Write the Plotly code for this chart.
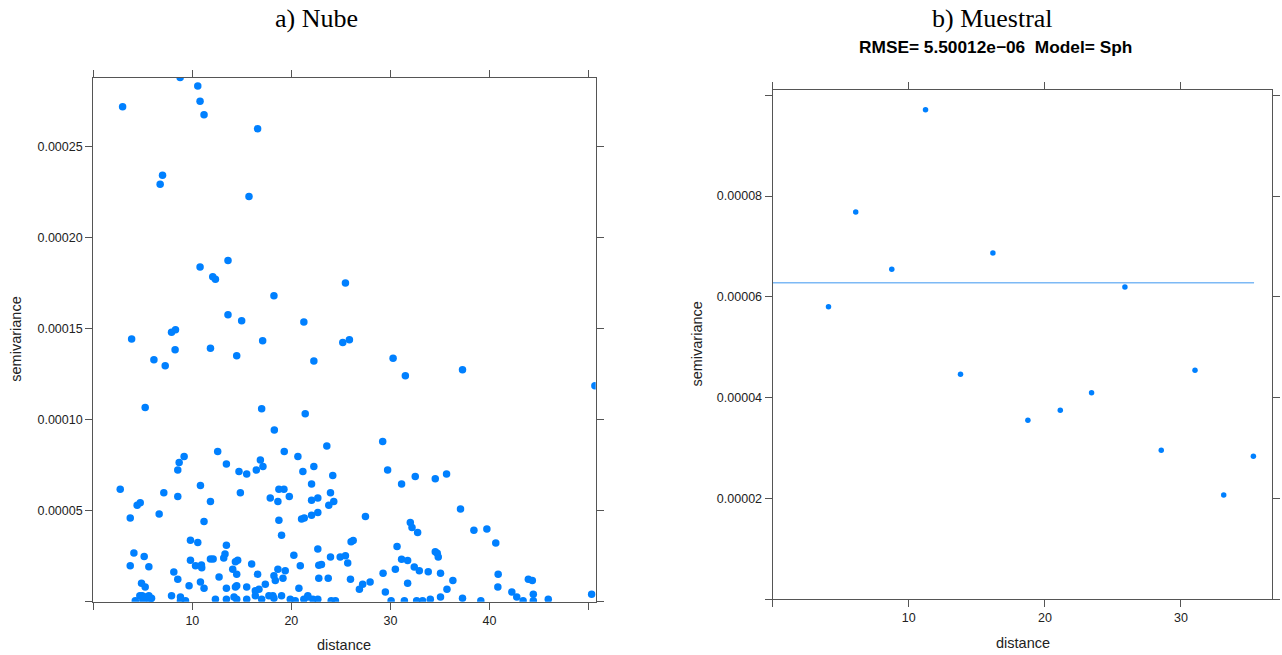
import plotly.graph_objects as go

# ---------------- data ----------------
# a) Nube : variogram cloud (distance, semivariance)
nube_dist = [
    2.96, 8.77, 10.55, 10.78, 11.18, 16.59, 6.99, 6.75, 15.72, 10.78,
    13.60, 12.06, 12.33, 18.24, 13.60, 14.98, 21.26, 7.90, 8.30, 3.87,
    25.46, 25.19, 25.86,
    8.26, 11.83, 17.10, 14.48, 6.12, 7.26, 22.27, 5.24, 17.0, 21.4,
    18.28, 12.56, 19.28, 9.17, 20.66, 8.67, 16.87, 17.13, 13.44, 22.27,
    8.53, 14.71, 15.49, 16.46, 21.16, 2.72, 10.82, 7.12, 14.85, 22.04,
    18.74, 19.25, 8.53, 17.87, 19.79, 18.64, 11.83, 22.04, 22.67, 4.43,
    4.74, 6.65, 3.73, 11.18, 18.74, 21.03, 21.3, 22.04, 22.67, 19.01,
    9.81, 10.55, 13.44, 22.67, 4.10, 13.3, 13.17, 20.25, 5.14, 9.81,
    11.83, 12.1, 14.35, 14.58, 15.99, 3.73, 5.61, 10.32, 10.92, 10.95,
    20.9, 22.77, 14.08, 18.64, 19.38, 18.24, 19.15, 8.13, 14.48, 16.59,
    8.53, 12.7, 18.38, 22.77, 10.82, 4.87, 5.24, 17.37, 9.67, 14.48,
    14.35, 15.49, 11.18, 13.44, 16.73, 16.36, 20.76, 7.90, 8.8, 16.36,
    17.73, 18.13, 19.01, 21.66,
    4.24, 4.7, 4.94, 5.24, 5.61, 5.88, 8.8, 9.31, 12.33, 13.44,
    14.21, 14.48, 15.49, 17.0, 18.24, 19.89, 20.39, 21.26, 21.66, 22.17,
    22.67, 5.0, 5.7,
    30.27, 31.51, 37.28, 50.65, 29.22, 23.58, 29.72, 32.51, 34.53, 35.67,
    24.18, 31.13, 23.95, 24.28, 23.78, 37.08, 27.48, 32.01, 32.18, 32.75,
    38.43, 39.74, 40.64, 26.03, 26.24, 30.67, 34.53, 34.73, 34.83, 23.95,
    24.93, 25.46, 25.69, 23.04, 31.13, 31.74, 32.41, 32.92, 33.82, 35.06,
    30.5, 29.26, 40.88, 23.72, 25.97, 36.31, 43.93, 44.33, 27.95, 27.2,
    26.87, 31.74, 40.85, 35.71, 29.49, 42.26, 42.76, 44.43, 50.32, 35.06,
    37.28, 45.94,
    24.02, 24.45, 30.07, 31.41, 32.65, 33.25, 34.03, 39.13, 43.4, 44.43,
]
nube_gamma = [
    2.72e-4, 2.88e-4, 2.833e-4, 2.75e-4, 2.675e-4, 2.598e-4, 2.343e-4, 2.294e-4, 2.226e-4, 1.839e-4,
    1.874e-4, 1.786e-4, 1.771e-4, 1.681e-4, 1.577e-4, 1.544e-4, 1.537e-4, 1.48e-4, 1.494e-4, 1.443e-4,
    1.751e-4, 1.4245e-4, 1.439e-4,
    1.384e-4, 1.392e-4, 1.434e-4, 1.351e-4, 1.329e-4, 1.296e-4, 1.322e-4, 1.067e-4, 1.06e-4, 1.032e-4,
    9.44e-5, 8.25e-5, 8.25e-5, 7.975e-5, 7.975e-5, 7.645e-5, 7.79e-5, 7.43e-5, 7.57e-5, 7.43e-5,
    7.23e-5, 7.15e-5, 7.02e-5, 7.23e-5, 7.15e-5, 6.18e-5, 6.38e-5, 5.98e-5, 5.98e-5, 6.46e-5,
    6.18e-5, 6.18e-5, 5.78e-5, 5.70e-5, 5.78e-5, 5.5e-5, 5.5e-5, 5.58e-5, 5.70e-5, 5.30e-5,
    5.43e-5, 4.82e-5, 4.60e-5, 4.40e-5, 4.48e-5, 4.55e-5, 4.60e-5, 4.75e-5, 4.90e-5, 3.65e-5,
    3.38e-5, 3.25e-5, 3.10e-5, 2.90e-5, 2.68e-5, 2.62e-5, 2.40e-5, 2.55e-5, 2.48e-5, 2.28e-5,
    2.35e-5, 2.35e-5, 2.2e-5, 2.28e-5, 2.07e-5, 1.98e-5, 1.925e-5, 1.98e-5, 2.02e-5, 1.87e-5,
    1.98e-5, 2.0e-5, 1.78e-5, 1.78e-5, 1.70e-5, 1.43e-5, 1.29e-5, 1.63e-5, 1.51e-5, 1.51e-5,
    1.23e-5, 1.36e-5, 1.16e-5, 1.29e-5, 1.08e-5, 1.01e-5, 8.1e-6, 9.6e-6, 8.8e-6, 8.8e-6,
    8.1e-6, 8.1e-6, 7.4e-6, 7.4e-6, 6.8e-6, 6.0e-6, 7.4e-6, 3.3e-6, 2.6e-6, 3.3e-6,
    3.3e-6, 3.3e-6, 3.3e-6, 3.3e-6,
    5.5e-7, 3.3e-6, 3.3e-6, 2.6e-6, 3.3e-6, 1.9e-6, 5.5e-7, 5.5e-7, 1.3e-6, 1.3e-6,
    2.6e-6, 1.3e-6, 1.3e-6, 1.3e-6, 1.9e-6, 1.3e-6, 5.5e-7, 1.3e-6, 2.6e-6, 1.3e-6,
    1.3e-6, 1.0e-6, 5.0e-7,
    1.337e-4, 1.241e-4, 1.274e-4, 1.186e-4, 8.8e-5, 8.55e-5, 7.23e-5, 6.88e-5, 6.75e-5, 7.02e-5,
    6.93e-5, 6.47e-5, 5.98e-5, 5.5e-5, 5.30e-5, 5.10e-5, 4.68e-5, 4.35e-5, 4.07e-5, 3.80e-5,
    3.93e-5, 4.0e-5, 3.23e-5, 3.3e-5, 3.36e-5, 3.03e-5, 2.75e-5, 2.66e-5, 2.46e-5, 2.46e-5,
    2.46e-5, 2.53e-5, 2.13e-5, 2.04e-5, 2.33e-5, 2.26e-5, 1.91e-5, 1.70e-5, 1.65e-5, 1.56e-5,
    1.78e-5, 1.56e-5, 1.51e-5, 1.29e-5, 1.23e-5, 1.16e-5, 1.23e-5, 1.16e-5, 1.08e-5, 9.6e-6,
    6.8e-6, 1.01e-5, 8.1e-6, 6.8e-6, 5.3e-6, 5.3e-6, 2.6e-6, 4.1e-6, 4.1e-6, 2.6e-6,
    1.9e-6, 1.3e-6,
    5.5e-7, 5.5e-7, 5.5e-7, 5.5e-7, 5.5e-7, 5.5e-7, 1.3e-6, 5.5e-7, 5.5e-7, 5.5e-7,
]

# b) Muestral : sample variogram
muestral_dist = [4.10, 6.10, 8.75, 11.23, 13.80, 16.18, 18.75, 21.13, 23.43, 25.88, 28.55, 31.03, 33.14, 35.32]
muestral_gamma = [5.806e-5, 7.684e-5, 6.547e-5, 9.714e-5, 4.464e-5, 6.87e-5, 3.551e-5, 3.75e-5,
                  4.10e-5, 6.196e-5, 2.956e-5, 4.543e-5, 2.069e-5, 2.837e-5]

# fitted model (flat spherical / nugget)
model_dist = [0.0, 35.37]
model_gamma = [6.28e-5, 6.28e-5]

# ticks
nube_xticks = [0, 10, 20, 30, 40, 50]
nube_xlabels = ["", "10", "20", "30", "40", ""]
nube_yticks = [0, 5e-5, 1e-4, 1.5e-4, 2e-4, 2.5e-4]
nube_ylabels = ["", "0.00005", "0.00010", "0.00015", "0.00020", "0.00025"]
mu_xticks = [0, 10, 20, 30]
mu_xlabels = ["", "10", "20", "30"]
mu_yticks = [0, 2e-5, 4e-5, 6e-5, 8e-5, 1e-4]
mu_ylabels = ["", "0.00002", "0.00004", "0.00006", "0.00008", ""]

# ---------------- figure ----------------
W, H = 1282, 655
PT_COLOR = "#0080FF"
AX_COLOR = "#555555"
TXT = "#222222"
SANS = "Liberation Sans, Arial, sans-serif"
SERIF = "Liberation Serif, Times New Roman, serif"


def px_x(p):
    return p / W


def px_y(p):
    return 1 - p / H


fig = go.Figure()
fig.add_trace(go.Scatter(x=nube_dist, y=nube_gamma, mode="markers",
                         marker=dict(color=PT_COLOR, size=7.5, line=dict(width=0)),
                         xaxis="x", yaxis="y", showlegend=False))
fig.add_trace(go.Scatter(x=model_dist, y=model_gamma, mode="lines",
                         line=dict(color="rgb(125,185,245)", width=1.5),
                         xaxis="x2", yaxis="y2", showlegend=False))
fig.add_trace(go.Scatter(x=muestral_dist, y=muestral_gamma, mode="markers",
                         marker=dict(color=PT_COLOR, size=5.5, line=dict(width=0)),
                         xaxis="x2", yaxis="y2", showlegend=False))

common = dict(ticks="outside", ticklen=7, tickwidth=1, tickcolor=AX_COLOR,
              showline=True, linecolor=AX_COLOR, linewidth=1.3, mirror="ticks",
              showgrid=False, zeroline=False,
              tickfont=dict(family=SANS, size=12.5, color=TXT))

fig.update_layout(
    width=W, height=H,
    margin=dict(l=0, r=0, t=0, b=0),
    paper_bgcolor="white", plot_bgcolor="white",
    xaxis=dict(domain=[px_x(93.3), px_x(595.7)], range=[0, 50.73], anchor="y",
               tickvals=nube_xticks, ticktext=nube_xlabels, **common),
    yaxis=dict(domain=[px_y(601.7), px_y(77.7)], range=[0, 2.879e-4], anchor="x",
               tickvals=nube_yticks, ticktext=nube_ylabels, **common),
    xaxis2=dict(domain=[px_x(772.7), px_x(1272.3)], range=[0, 36.71], anchor="y2",
                tickvals=mu_xticks, ticktext=mu_xlabels, **common),
    yaxis2=dict(domain=[px_y(599.3), px_y(90)], range=[0, 1.0105e-4], anchor="x2",
                tickvals=mu_yticks, ticktext=mu_ylabels, **common),
)

ann = [
    dict(text="a) Nube", x=px_x(316), y=px_y(18), font=dict(family=SERIF, size=26, color="black")),
    dict(text="b) Muestral", x=px_x(992), y=px_y(18), font=dict(family=SERIF, size=26, color="black")),
    dict(text="<b>RMSE= 5.50012e\u221206 \u00a0Model= Sph</b>", x=px_x(995.5), y=px_y(47.5),
         font=dict(family=SANS, size=17.3, color="black")),
    dict(text="distance", x=px_x(344.5), y=px_y(645), font=dict(family=SANS, size=14.5, color=TXT)),
    dict(text="distance", x=px_x(1022.5), y=px_y(643), font=dict(family=SANS, size=14.5, color=TXT)),
    dict(text="semivariance", x=px_x(16), y=px_y(339.7), textangle=-90,
         font=dict(family=SANS, size=14.5, color=TXT)),
    dict(text="semivariance", x=px_x(697), y=px_y(344.6), textangle=-90,
         font=dict(family=SANS, size=14.5, color=TXT)),
]
for a in ann:
    a.update(xref="paper", yref="paper", xanchor="center", yanchor="middle", showarrow=False)
fig.update_layout(annotations=ann)

fig.write_html("out.html")
